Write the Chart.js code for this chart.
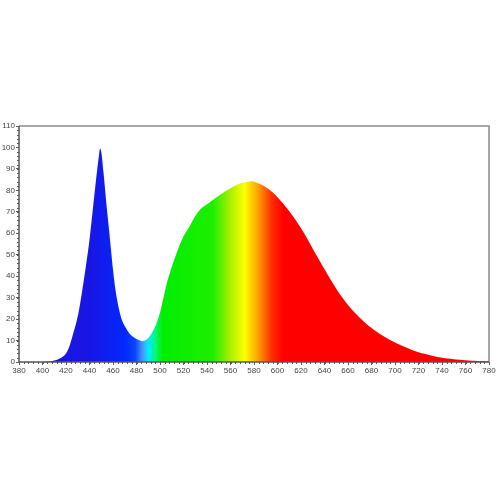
<!DOCTYPE html>
<html>
<head>
<meta charset="utf-8">
<script src="https://cdn.jsdelivr.net/npm/chart.js@4.4.0/dist/chart.umd.min.js"></script>
<style>
  html, body { margin: 0; padding: 0; background: #fff; }
  #wrap { width: 500px; height: 500px; }
</style>
</head>
<body>
<div id="wrap"><canvas id="spectrum" width="500" height="500"></canvas></div>
<script>
// Wavelengths (nm) and relative intensity
const wavelengths = [380, 400, 405, 410, 415, 420, 423, 426, 429, 431, 434, 437, 440, 443, 446, 448, 449,
  450, 452, 454, 456, 458, 460, 462, 464, 466, 468, 471, 474, 478, 482, 485,
  488, 491, 494, 497, 500, 503, 506, 509, 512, 516, 520, 525, 530, 535, 540, 545,
  550, 555, 560, 565, 570, 575, 578, 582, 587, 592, 598, 604, 610, 615, 620, 625,
  630, 635, 640, 645, 650, 655, 660, 665, 670, 675, 680, 685, 690, 695, 700, 705,
  710, 715, 720, 725, 730, 735, 740, 745, 750, 755, 760, 765, 770, 775, 780]
const intensity = [0, 0, 0.2, 0.7, 1.8, 4, 7.5, 13, 19, 24, 34, 45, 57, 72, 87, 96, 99.5,
  98, 88, 76, 65, 54, 43, 34, 27.5, 22.5, 19, 15.8, 13.3, 11.4, 10.2, 9.7,
  10.2, 11.8, 14.5, 18, 23, 30, 37, 42.5, 47.5, 53.5, 58.5, 63, 68, 71.5, 73.5, 75.5,
  77.5, 79.3, 81, 82.5, 83.5, 84, 84.3, 83.7, 82.5, 80.8, 78, 74.3, 70.3, 66.5, 62.3, 57.8,
  52.8, 48, 43.2, 38.6, 34.2, 30.2, 26.6, 23.4, 20.6, 18.1, 15.9, 13.9, 12.1, 10.5, 9.1, 7.8,
  6.6, 5.5, 4.6, 3.8, 3.1, 2.5, 2, 1.6, 1.3, 1, 0.8, 0.6, 0.5, 0.4, 0.3]

// axis ticks
const xTicks = [380, 400, 420, 440, 460, 480, 500, 520, 540, 560, 580, 600, 620, 640, 660, 680, 700, 720, 740, 760, 780]
const yTicks = [0, 10, 20, 30, 40, 50, 60, 70, 80, 90, 100, 110]

// colour of the fill along the spectrum
const stopWl = [380, 440, 470, 479, 485, 490, 496, 502, 545, 560, 572, 583, 595, 605, 780]
const stopColor = ['rgb(28,20,222)', 'rgb(25,22,228)', 'rgb(0,40,255)', 'rgb(10,70,255)', 'rgb(70,150,255)',
  'rgb(0,235,255)', 'rgb(0,250,120)', 'rgb(0,238,0)', 'rgb(30,238,0)', 'rgb(170,240,0)', 'rgb(255,255,0)',
  'rgb(255,165,0)', 'rgb(255,45,0)', 'rgb(255,0,0)', 'rgb(255,0,0)']

const points = wavelengths.map((w, i) => ({ x: w, y: intensity[i] }))

function spectrumFill(context) {
  const chart = context.chart
  const area = chart.chartArea
  if (!area) return 'blue'
  const xs = chart.scales.x
  const x0 = xs.getPixelForValue(380)
  const x1 = xs.getPixelForValue(780)
  const g = chart.ctx.createLinearGradient(x0, 0, x1, 0)
  stopWl.forEach((w, i) => {
    g.addColorStop((w - 380) / 400, stopColor[i])
  })
  return g
}

// frame + minor ticks
const framePlugin = {
  id: 'frame',
  afterDraw(chart) {
    const { ctx, chartArea: a, scales } = chart
    ctx.save()
    ctx.strokeStyle = '#8a8a8a'
    ctx.lineWidth = 1.5
    ctx.beginPath()
    ctx.moveTo(a.left, a.top)
    ctx.lineTo(a.right, a.top)
    ctx.lineTo(a.right, a.bottom)
    ctx.stroke()
    ctx.strokeStyle = '#555a70'
    ctx.lineWidth = 1
    ctx.beginPath()
    for (let v = 380; v <= 780; v += 4) {
      const px = Math.round(scales.x.getPixelForValue(v)) + 0.5
      ctx.moveTo(px, a.bottom)
      ctx.lineTo(px, a.bottom + 2)
    }
    for (let v = 0; v <= 110; v += 2) {
      const py = Math.round(scales.y.getPixelForValue(v)) + 0.5
      ctx.moveTo(a.left, py)
      ctx.lineTo(a.left - 2, py)
    }
    ctx.stroke()
    ctx.strokeStyle = '#555'
    ctx.lineWidth = 1.5
    ctx.beginPath()
    ctx.moveTo(a.left, a.top)
    ctx.lineTo(a.left, a.bottom)
    ctx.lineTo(a.right, a.bottom)
    ctx.stroke()
    ctx.restore()
  }
}

new Chart(document.getElementById('spectrum'), {
  type: 'line',
  data: {
    datasets: [{
      data: points,
      fill: 'origin',
      backgroundColor: spectrumFill,
      borderWidth: 0,
      pointRadius: 0,
      cubicInterpolationMode: 'monotone'
    }]
  },
  options: {
    responsive: false,
    animation: false,
    layout: { padding: { top: 126, right: 11, bottom: 124, left: 0 } },
    plugins: { legend: { display: false }, tooltip: { enabled: false } },
    scales: {
      x: {
        type: 'linear',
        min: 380, max: 780,
        afterBuildTicks: s => { s.ticks = xTicks.map(v => ({ value: v })) },
        afterFit: s => { s.height = 14 },
        grid: { drawOnChartArea: false, tickLength: 3, color: '#555a70' },
        border: { display: false },
        ticks: { font: { family: 'Liberation Sans', size: 8 }, color: '#444', padding: 1, maxRotation: 0, autoSkip: false }
      },
      y: {
        min: 0, max: 110,
        afterBuildTicks: s => { s.ticks = yTicks.map(v => ({ value: v })) },
        afterFit: s => { s.width = 19 },
        grid: { drawOnChartArea: false, tickLength: 3, color: '#555a70' },
        border: { display: false },
        ticks: { font: { family: 'Liberation Sans', size: 8 }, color: '#444', padding: 1 }
      }
    }
  },
  plugins: [framePlugin]
})
</script>
</body>
</html>
